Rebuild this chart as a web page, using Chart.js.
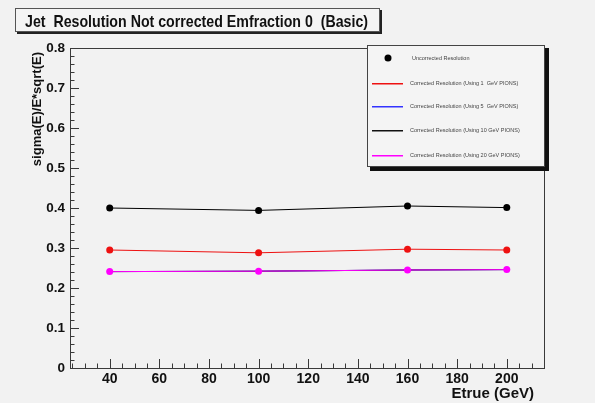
<!DOCTYPE html>
<html lang="en">
<head>
    <meta charset="UTF-8">
    <title>Jet Resolution Not corrected Emfraction 0 (Basic)</title>
    <script src="https://cdn.jsdelivr.net/npm/chart.js"></script>
    <style>
        html, body {
            margin: 0;
            padding: 0;
            background: #f2f2f2;
        }
        #resChart {
            display: block;
        }
    </style>
</head>
<body>

<canvas id="resChart" width="595" height="403"></canvas>

<script>
    // true jet energy (GeV)
    const energies = [40, 100, 160, 200];

    // sigma(E)/E*sqrt(E)
    const uncorrected = [0.400, 0.394, 0.405, 0.401];
    const corrected1 = [0.295, 0.288, 0.297, 0.295];
    const corrected5 = [0.241, 0.242, 0.245, 0.246];
    const corrected10 = [0.241, 0.242, 0.245, 0.246];
    const corrected20 = [0.241, 0.242, 0.245, 0.246];

    const xTicks = [40, 60, 80, 100, 120, 140, 160, 180, 200];
    const yTicks = [0, 0.1, 0.2, 0.3, 0.4, 0.5, 0.6, 0.7, 0.8];

    const legendLabels = [
        'Uncorrected Resolution',
        'Corrected Resolution (Using 1  GeV PIONS)',
        'Corrected Resolution (Using 5  GeV PIONS)',
        'Corrected Resolution (Using 10 GeV PIONS)',
        'Corrected Resolution (Using 20 GeV PIONS)'
    ];
    const colors = ['#000000', '#ee1111', '#3333ff', '#111111', '#ff00ff'];

    const FONT = '"Liberation Sans", Arial, sans-serif';

    function points(values) {
        return energies.map((e, i) => ({ x: e, y: values[i] }));
    }

    function series(i, values, marker, order) {
        return {
            label: legendLabels[i],
            data: points(values),
            order: order,
            borderColor: colors[i],
            backgroundColor: colors[i],
            borderWidth: 1,
            pointRadius: marker ? 3.5 : 0,
            pointBorderWidth: 0,
            pointBackgroundColor: colors[i],
            tension: 0
        };
    }

    // draw text squeezed to a given width
    function fitText(ctx, text, x, y, width) {
        const w = ctx.measureText(text).width;
        ctx.save();
        ctx.translate(x, y);
        ctx.scale(Math.min(1, width / w), 1);
        ctx.fillText(text, 0, 0);
        ctx.restore();
    }

    // ROOT style frame with inward ticks, title box and legend box
    const framePlugin = {
        id: 'frame',
        beforeDraw(chart) {
            const ctx = chart.ctx;
            ctx.save();
            ctx.fillStyle = '#f2f2f2';
            ctx.fillRect(0, 0, chart.width, chart.height);
            ctx.restore();
        },
        beforeDatasetsDraw(chart) {
            const { ctx, chartArea: a, scales } = chart;
            ctx.save();
            ctx.strokeStyle = '#3a3a3a';
            ctx.lineWidth = 1;
            ctx.strokeRect(a.left + 0.5, a.top + 0.5, a.right - a.left, a.bottom - a.top);

            ctx.beginPath();
            for (let v = 25; v <= 215; v += 5) {
                const px = Math.round(scales.x.getPixelForValue(v)) + 0.5;
                const len = v % 20 === 0 ? 9 : 4.5;
                ctx.moveTo(px, a.bottom);
                ctx.lineTo(px, a.bottom - len);
            }
            for (let k = 0; k <= 40; k++) {
                const v = k * 0.02;
                const py = Math.round(scales.y.getPixelForValue(v)) + 0.5;
                const len = k % 5 === 0 ? 9 : 4.5;
                ctx.moveTo(a.left, py);
                ctx.lineTo(a.left + len, py);
            }
            ctx.stroke();
            ctx.restore();
        },
        afterDraw(chart) {
            const ctx = chart.ctx;
            ctx.save();

            // title box
            ctx.fillStyle = '#222';
            ctx.fillRect(17, 10, 365, 24);
            ctx.fillStyle = '#f4f4f4';
            ctx.fillRect(15, 8, 365, 24);
            ctx.strokeStyle = '#555';
            ctx.lineWidth = 1;
            ctx.strokeRect(15.5, 8.5, 364, 23);
            ctx.fillStyle = '#111';
            ctx.font = 'bold 17px ' + FONT;
            ctx.textBaseline = 'alphabetic';
            ctx.textAlign = 'left';
            fitText(ctx, 'Jet  Resolution Not corrected Emfraction 0  (Basic)', 25, 27, 343);

            // axis titles
            ctx.font = 'bold 15px ' + FONT;
            ctx.textAlign = 'right';
            ctx.fillText('Etrue (GeV)', 534, 398);

            ctx.translate(41, 52);
            ctx.rotate(-Math.PI / 2);
            ctx.font = 'bold 13px ' + FONT;
            ctx.textAlign = 'right';
            ctx.fillText('sigma(E)/E*sqrt(E)', 0, 0);
            ctx.restore();

            // legend box
            ctx.save();
            ctx.fillStyle = '#111';
            ctx.fillRect(370, 48, 179, 123);
            ctx.fillStyle = '#f4f4f4';
            ctx.fillRect(367, 45, 178, 122);
            ctx.strokeStyle = '#444';
            ctx.lineWidth = 1;
            ctx.strokeRect(367.5, 45.5, 177, 121);

            const rows = [58, 83, 106, 130, 155];
            ctx.font = '5.5px ' + FONT;
            ctx.textAlign = 'left';
            ctx.textBaseline = 'middle';
            rows.forEach((y, i) => {
                if (i === 0) {
                    ctx.fillStyle = colors[0];
                    ctx.beginPath();
                    ctx.arc(388, y, 3.5, 0, Math.PI * 2);
                    ctx.fill();
                } else {
                    ctx.fillStyle = colors[i];
                    ctx.fillRect(372, y, 31, 1.5);
                }
                ctx.fillStyle = '#444';
                ctx.fillText(legendLabels[i], i === 0 ? 412 : 410, y);
            });
            ctx.restore();
        }
    };

    new Chart(document.getElementById('resChart'), {
        type: 'line',
        data: {
            datasets: [
                series(0, uncorrected, true, 0),
                series(1, corrected1, true, 1),
                series(2, corrected5, false, 4),
                series(3, corrected10, false, 3),
                series(4, corrected20, true, 2)
            ]
        },
        options: {
            responsive: false,
            animation: false,
            layout: {
                padding: { left: 0, top: 48, right: 51, bottom: 0 }
            },
            plugins: {
                legend: { display: false },
                title: { display: false },
                tooltip: { enabled: false }
            },
            scales: {
                x: {
                    type: 'linear',
                    min: 24,
                    max: 215,
                    grid: { display: false, drawTicks: false, tickLength: 0 },
                    border: { display: false },
                    afterBuildTicks(scale) {
                        scale.ticks = xTicks.map(v => ({ value: v }));
                    },
                    afterFit(scale) {
                        scale.height = 35;
                    },
                    ticks: {
                        padding: 3,
                        maxRotation: 0,
                        color: '#111',
                        font: { family: FONT, size: 14, weight: 'bold' }
                    }
                },
                y: {
                    type: 'linear',
                    min: 0,
                    max: 0.8,
                    grid: { display: false, drawTicks: false, tickLength: 0 },
                    border: { display: false },
                    afterBuildTicks(scale) {
                        scale.ticks = yTicks.map(v => ({ value: v }));
                    },
                    afterFit(scale) {
                        scale.width = 70;
                    },
                    ticks: {
                        padding: 5,
                        color: '#111',
                        font: { family: FONT, size: 13.5, weight: 'bold' },
                        callback: v => v === 0 ? '0' : v.toFixed(1)
                    }
                }
            }
        },
        plugins: [framePlugin]
    });
</script>

</body>
</html>
